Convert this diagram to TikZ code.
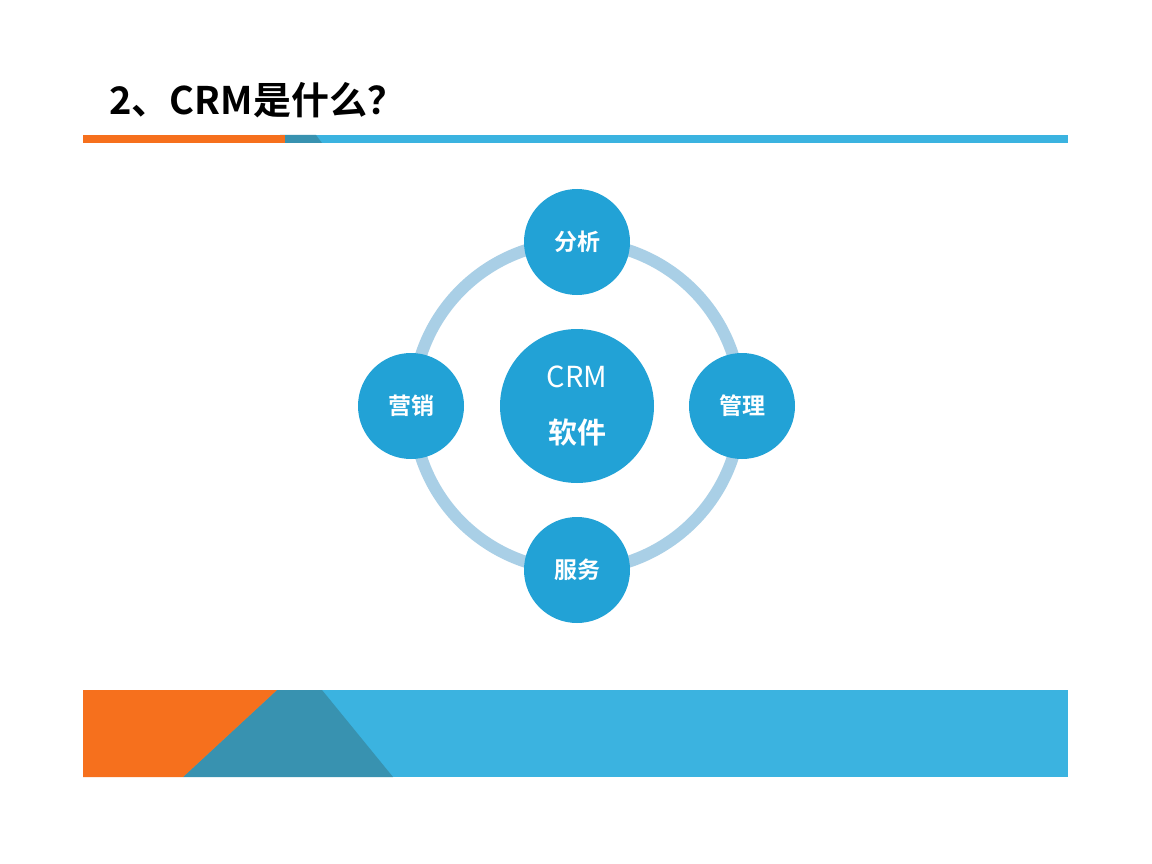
\documentclass[tikz,border=0pt]{standalone}
\usepackage{fontspec}
\setmainfont{Noto Sans CJK SC}
\newfontfamily\cjkb{Noto Sans CJK SC Bold}
\definecolor{orng}{HTML}{F6701D}
\definecolor{teal1}{HTML}{3892B0}
\definecolor{lblue}{HTML}{3BB3E0}
\definecolor{ring}{HTML}{A9CFE6}
\definecolor{nodeb}{HTML}{22A2D6}
\begin{document}
\begin{tikzpicture}[x=1pt,y=-1pt,
  small/.style={circle,fill=nodeb,minimum size=106pt,inner sep=0pt,text=white,font=\cjkb\fontsize{23}{26}\selectfont},
  big/.style={circle,fill=nodeb,minimum size=154pt,inner sep=0pt,text=white,font=\fontsize{29}{56}\selectfont,align=center}]
\useasboundingbox (0,0) rectangle (1152,864);
\fill[white] (0,0) rectangle (1152,864);
\node[anchor=west,font=\cjkb\fontsize{38}{42}\selectfont] (title) at (106,100) {2、CRM是什么？};
% top bar
\fill[lblue] (83,135) rectangle (1068,143);
\fill[teal1] (280,135) -- (316,135) -- (322,143) -- (283,143) -- cycle;
\fill[orng] (83,135) rectangle (285,143);
% ring
\draw[ring,line width=12pt] (577,406) circle (164);
\node[big] (c) at (577,406) {CRM\\{\cjkb 软件}};
\node[small] (a) at (577,242) {分析};
\node[small] (m) at (742,406) {管理};
\node[small] (s) at (577,570) {服务};
\node[small] (y) at (411,406) {营销};
% bottom band
\fill[lblue] (83,690) rectangle (1068,777);
\fill[teal1] (277,690) -- (322,690) -- (393,777) -- (183,777) -- cycle;
\fill[orng] (83,690) -- (277,690) -- (183,777) -- (83,777) -- cycle;
\end{tikzpicture}
\end{document}
